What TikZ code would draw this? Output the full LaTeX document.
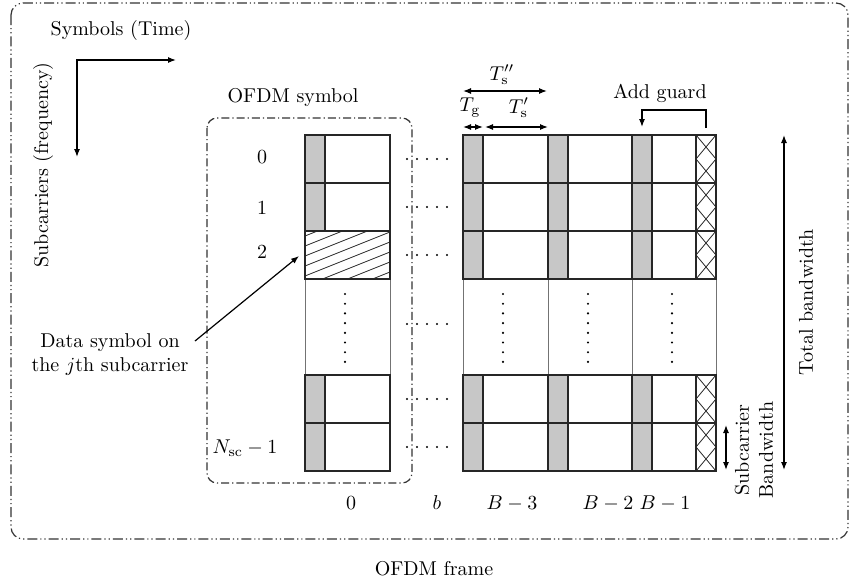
\documentclass[tikz,border=0pt]{standalone}
\usepackage{amsmath}
\usepackage{tikz}
\usetikzlibrary{positioning,arrows.meta,calc}

\begin{document}
\begin{tikzpicture}[
  x=0.5pt,y=-0.5pt,
  >={Latex[length=4pt,width=3pt]},
  cellline/.style ={draw=black!85,line width=0.9pt},
  thinline/.style ={draw=black!55,line width=0.5pt},
  guardfill/.style={fill=black!22},
  hatchline/.style={draw=black!85,line width=0.4pt},
  frameline/.style={draw=black!80,line width=0.6pt,rounded corners=6pt,
                    dash pattern=on 5pt off 1.5pt on 0.6pt off 1.5pt on 0.6pt off 1.5pt},
  symline/.style  ={draw=black!80,line width=0.6pt,rounded corners=5pt,
                    dash pattern=on 4pt off 1.5pt on 0.6pt off 1.5pt},
  dimarrow/.style ={<->,line width=0.6pt},
  callout/.style  ={->,line width=0.6pt},
  lbl/.style      ={inner sep=1pt},
]
\useasboundingbox (0,0) rectangle (851,585);

% ===================== Outer frame and axes ==============================
\draw[frameline] (11,3) rectangle (848,539);
\node[lbl] (frm) at (434,569) {OFDM frame};

\node[lbl] (symT) at (121,30) {Symbols (Time)};
\node[lbl,rotate=90] (subF) at (43,165) {Subcarriers (frequency)};
\coordinate (axO) at (77,60);
\coordinate (axT) at (176,60);
\coordinate (axF) at (77,157);
\draw[dimarrow] (axT) -- (axO) -- (axF);

% ===================== Guard stripes and patterns ========================
\foreach \t in {135,183,375,423}
  \fill[guardfill] (305,\t) rectangle ++(20,48);
\foreach \bx in {463,548,632}{
  \foreach \t in {135,183,231,375,423}
    \fill[guardfill] (\bx,\t) rectangle ++(20,48);
}

% hatched data symbol (row 2 of symbol 0)
\begin{scope}
  \clip (305,231) rectangle (390,279);
  \foreach \c in {236,246,...,326}
    \draw[hatchline] (305,\c) -- (390,{\c-34});
\end{scope}

% added guard (cross-hatched) in the last symbol
\foreach \t in {135,183,231,375,423}{
  \draw[hatchline] (696,\t) -- (716,{\t+24}) -- (696,{\t+48});
  \draw[hatchline] (716,\t) -- (696,{\t+24}) -- (716,{\t+48});
}

% ===================== Symbol blocks =====================================
\foreach \bx/\bw in {305/85,463/85,548/84,632/84}{
  \draw[thinline] (\bx,279) rectangle ++(\bw,96);
  \draw[cellline] (\bx,135) rectangle ++(\bw,144);
  \draw[cellline] (\bx,375) rectangle ++(\bw,96);
  \draw[cellline] (\bx,183) -- ++(\bw,0) (\bx,231) -- ++(\bw,0)
                  (\bx,423) -- ++(\bw,0);
}
\draw[cellline] (325,135) -- (325,231) (325,375) -- (325,471);
\foreach \bx in {483,568,652,696}
  \draw[cellline] (\bx,135) -- (\bx,279) (\bx,375) -- (\bx,471);

% dots inside the blocks and between them
\foreach \cx in {345,503,588,672}
  \foreach \k in {0,...,7}
    \fill (\cx,{294+\k*9.7}) circle (0.6pt);
\foreach \ry in {159,207,255,324,399,447}
  \foreach \k in {0,...,4}
    \fill ({407+\k*10},\ry) circle (0.6pt);

% ===================== OFDM symbol grouping ==============================
\draw[symline] (207,118) rectangle (412,483);
\node[lbl] (symL) at (293,97) {OFDM symbol};

\node[lbl] (r0) at (262,157) {0};
\node[lbl] (r1) at (262,208) {1};
\node[lbl] (r2) at (262,252) {2};
\node[lbl] (rN) at (245,448) {$N_{\mathrm{sc}}-1$};

\node[lbl,align=center] (dsym) at (110,354) {Data symbol on\\the $j$th subcarrier};
\coordinate (dsTail) at (195,341);
\coordinate (dsTip) at (299,256);
\draw[callout] (dsTail) -- (dsTip);

% ----- symbol indices -----------------------------------------------------
\node[lbl] (b0)  at (351,503) {0};
\node[lbl] (bb)  at (437,503) {$b$};
\node[lbl] (bB3) at (512,503) {$B-3$};
\node[lbl] (bB2) at (608,503) {$B-2$};
\node[lbl] (bB1) at (665,503) {$B-1$};

% ===================== Durations and guard ===============================
\coordinate (tsA) at (463,91);
\coordinate (tsB) at (547,91);
\draw[dimarrow] (tsA) -- (tsB);
\node[lbl] (tsL) at (502,75) {$T''_{\mathrm{s}}$};

\coordinate (tgA) at (463,127);
\coordinate (tgB) at (483,127);
\draw[dimarrow] (tgA) -- (tgB);
\node[lbl] (tgL) at (470,108) {$T_{\mathrm{g}}$};

\coordinate (tpA) at (485,127);
\coordinate (tpB) at (548,127);
\draw[dimarrow] (tpA) -- (tpB);
\node[lbl] (tpL) at (519,108) {$T'_{\mathrm{s}}$};

\node[lbl] (agL) at (660,93) {Add guard};
\coordinate (agS) at (706,128);
\coordinate (agK) at (706,110);
\coordinate (agE) at (642,127);
\draw[callout] (agS) -- (agK) -| (agE);

% ===================== Bandwidth markers =================================
\coordinate (tbT) at (784,135);
\coordinate (tbB) at (784,470);
\draw[dimarrow] (tbT) -- (tbB);
\node[lbl,rotate=90] (tbL) at (806,302) {Total bandwidth};

\coordinate (sbT) at (726,425);
\coordinate (sbB) at (726,470);
\draw[dimarrow] (sbT) -- (sbB);
\node[lbl,rotate=90,align=center] (sbL) at (754,450) {Subcarrier\\Bandwidth};

\end{tikzpicture}
\end{document}
